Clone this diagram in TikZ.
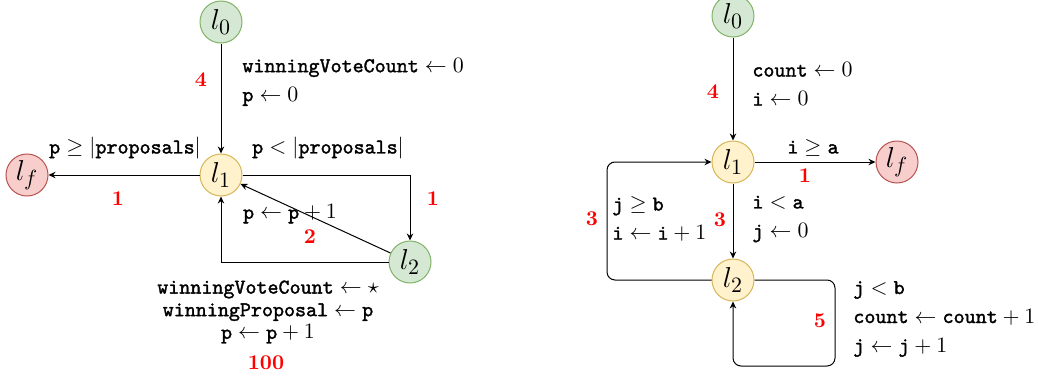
\documentclass[tikz,border=0pt]{standalone}
\usepackage{amsmath}
\usepackage{fontspec}
\usetikzlibrary{arrows.meta,positioning}

\newfontfamily\tvfont{Latin Modern Mono}[FakeBold=1.6]

\definecolor{initfill}{HTML}{D5E8D4}
\definecolor{initdraw}{HTML}{82B366}
\definecolor{midfill}{HTML}{FFF2CC}
\definecolor{middraw}{HTML}{D6B656}
\definecolor{finfill}{HTML}{F8CECC}
\definecolor{findraw}{HTML}{B85450}

\newcommand{\tv}[1]{\text{\tvfont #1}}

\begin{document}
\begin{tikzpicture}[x=0.5pt, y=-0.5pt,
  loc/.style={circle, draw, line width=0.5pt, minimum size=21pt, inner sep=0pt,
              font=\fontsize{15.5}{17}\selectfont},
  init/.style={loc, fill=initfill, draw=initdraw},
  mid/.style={loc, fill=midfill, draw=middraw},
  fin/.style={loc, fill=finfill, draw=findraw},
  arr/.style={-{Stealth[length=3.5pt, width=3.2pt]}, line width=0.5pt},
  lbl/.style={font=\fontsize{10.5}{14.5}\selectfont, inner sep=0pt, align=left},
  cost/.style={text=red, font=\fontsize{10.5}{12}\selectfont\bfseries, inner sep=0pt}
]
  \useasboundingbox (0,0) rectangle (1038,380);

  % left automaton
  \node[init] (a0) at (221,22)  {$l_0$};
  \node[mid]  (a1) at (221,175) {$l_1$};
  \node[fin]  (af) at (27,175)  {$l_f$};
  \node[init] (a2) at (410,262) {$l_2$};

  \draw[arr] (a0) -- (a1);
  \draw[arr] (a1) -- (af);
  \draw[arr] (a1.east) -| (a2.north);
  \draw[arr] (a2) -- (a1);
  \draw[arr] (a2.west) -| (a1.south);

  \node[lbl, anchor=west] (ainit) at (242,82)
    {$\tv{winningVoteCount} \leftarrow 0$\\$\tv{p} \leftarrow 0$};
  \node[cost] (c4a) at (201,80) {4};
  \node[lbl] (aexit) at (125,148) {$\tv{p} \geq |\tv{proposals}|$};
  \node[cost] (c1a) at (118,199) {1};
  \node[lbl] (aloop) at (328,148) {$\tv{p} < |\tv{proposals}|$};
  \node[cost] (c1b) at (433,199) {1};
  \node[lbl] (askip) at (290,214) {$\tv{p} \leftarrow \tv{p} + 1$};
  \node[cost] (c2a) at (310,237) {2};
  \node[lbl, align=center, font=\fontsize{10.5}{11.3}\selectfont] (awin) at (268,312)
    {$\tv{winningVoteCount} \leftarrow \star$\\
     $\tv{winningProposal} \leftarrow \tv{p}$\\
     $\tv{p} \leftarrow \tv{p} + 1$};
  \node[cost] (c100) at (266,363) {100};

  % right automaton
  \node[init] (b0) at (733,16)  {$l_0$};
  \node[mid]  (b1) at (733,162) {$l_1$};
  \node[fin]  (bf) at (897,162) {$l_f$};
  \node[mid]  (b2) at (733,280) {$l_2$};
  \coordinate (bl) at (607,0);
  \coordinate (br) at (835,366);

  \draw[arr] (b0) -- (b1);
  \draw[arr] (b1) -- (bf);
  \draw[arr] (b1) -- (b2);
  \draw[arr, rounded corners=4pt] (b2.west) -- (b2.west -| bl) -- (b1.west -| bl) -- (b1.west);
  \draw[arr, rounded corners=4pt] (b2.east) -| (br) -| (b2.south);

  \node[lbl, anchor=west] (binit) at (752,84)
    {$\tv{count} \leftarrow 0$\\$\tv{i} \leftarrow 0$};
  \node[cost] (c4b) at (713,92) {4};
  \node[lbl] (bexit) at (813,148) {$\tv{i} \geq \tv{a}$};
  \node[cost] (c1c) at (805,176) {1};
  \node[lbl, anchor=west] (binner) at (752,219)
    {$\tv{i} < \tv{a}$\\$\tv{j} \leftarrow 0$};
  \node[cost] (c3a) at (720,220) {3};
  \node[lbl, anchor=west] (bouter) at (612,219)
    {$\tv{j} \geq \tv{b}$\\$\tv{i} \leftarrow \tv{i} + 1$};
  \node[cost] (c3b) at (592,219) {3};
  \node[lbl, anchor=west] (bself) at (853,319)
    {$\tv{j} < \tv{b}$\\$\tv{count} \leftarrow \tv{count} + 1$\\$\tv{j} \leftarrow \tv{j} + 1$};
  \node[cost] (c5) at (820,321) {5};
\end{tikzpicture}
\end{document}
